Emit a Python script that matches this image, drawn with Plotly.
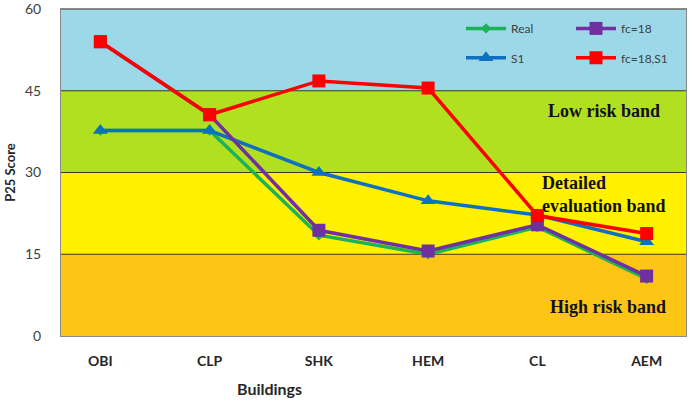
import plotly.graph_objects as go

buildings = ["OBI", "CLP", "SHK", "HEM", "CL", "AEM"]
real = [37.7, 37.7, 18.5, 15.0, 20.0, 10.5]
s1 = [37.7, 37.7, 30.0, 24.8, 22.2, 17.3]
fc18 = [54.0, 40.6, 19.4, 15.6, 20.4, 11.0]
fc18_s1 = [54.0, 40.6, 46.8, 45.5, 22.1, 18.8]
y_ticks = [0, 15, 30, 45, 60]
bands = [(0, 15, "#FFC514"), (15, 30, "#FFF100"), (30, 45, "#B1E021"), (45, 60, "#9CD8E8")]

fig = go.Figure()
for lo, hi, col in bands:
    fig.add_shape(type="rect", xref="paper", yref="y", x0=0, x1=1, y0=lo, y1=hi,
                  fillcolor=col, line_width=0, layer="below")
for v in y_ticks[1:]:
    fig.add_shape(type="line", xref="paper", yref="y", x0=0, x1=1, y0=v, y1=v,
                  line=dict(color="#3a3a10", width=1.2), layer="below")

fig.add_trace(go.Scatter(x=buildings, y=real, name="Real", mode="lines+markers",
                         line=dict(color="#1DB15A", width=3.5),
                         marker=dict(symbol="diamond", size=8, color="#1DB15A"),
                         legend="legend"))
fig.add_trace(go.Scatter(x=buildings, y=s1, name="S1", mode="lines+markers",
                         line=dict(color="#0E70C0", width=3.5),
                         marker=dict(symbol="triangle-up", size=13, color="#0E70C0"),
                         legend="legend3"))
fig.add_trace(go.Scatter(x=buildings, y=fc18, name="fc=18", mode="lines+markers",
                         line=dict(color="#7030A0", width=3.5),
                         marker=dict(symbol="square", size=13, color="#7030A0"),
                         legend="legend2"))
fig.add_trace(go.Scatter(x=buildings, y=fc18_s1, name="fc=18,S1", mode="lines+markers",
                         line=dict(color="#FF0000", width=3.5),
                         marker=dict(symbol="square", size=13, color="#FF0000"),
                         legend="legend4"))

ann_font = dict(family="Liberation Serif, Times New Roman, serif", size=18, color="#111111")
fig.add_annotation(x=0.776, y=41.3, xref="paper", yref="y", text="<b>Low risk band</b>",
                   xanchor="left", showarrow=False, font=ann_font)
fig.add_annotation(x=0.767, y=26.0, xref="paper", yref="y",
                   text="<b>Detailed<br>evaluation band</b>", xanchor="left", align="left",
                   showarrow=False, font=ann_font)
fig.add_annotation(x=0.779, y=5.4, xref="paper", yref="y", text="<b>High risk band</b>",
                   xanchor="left", showarrow=False, font=ann_font)
fig.add_annotation(x=0.334, y=0, yshift=-52, yanchor="middle", xref="paper", yref="paper",
                   text="<b>Buildings</b>", showarrow=False,
                   font=dict(family="Lato, sans-serif", size=16, color="#262626"))

leg_common = dict(bgcolor="rgba(0,0,0,0)", font=dict(family="Lato, sans-serif", size=12, color="#404040"),
                  tracegroupgap=0, itemwidth=40, yanchor="top", xanchor="left")
fig.update_layout(
    width=695, height=411,
    margin=dict(l=61, r=9, t=9, b=75, autoexpand=False),
    paper_bgcolor="white", plot_bgcolor="rgba(0,0,0,0)",
    showlegend=True,
    legend=dict(x=0.64, y=0.985, **leg_common),
    legend2=dict(x=0.816, y=0.985, **leg_common),
    legend3=dict(x=0.64, y=0.895, **leg_common),
    legend4=dict(x=0.816, y=0.895, **leg_common),
    font=dict(family="Lato, sans-serif", color="#404040"),
)
fig.update_xaxes(showgrid=False, showline=True, linecolor="#8a8a8a", mirror=True,
                 automargin=False,
                 ticks="", tickfont=dict(size=14, family="Lato, sans-serif", color="#262626"),
                 ticklabelstandoff=12, tickprefix="<b>", ticksuffix="</b>")
fig.update_yaxes(range=[0, 60], tickvals=y_ticks, showgrid=False, zeroline=False,
                 automargin=False,
                 showline=True, linecolor="#8a8a8a", mirror=True, ticks="",
                 tickfont=dict(size=14, color="#404040"), ticklabelstandoff=16,
                 ticklabeloverflow="allow",
                 tickprefix="<b>", ticksuffix="</b>",
                 title=dict(text="<b>P25 Score</b>", font=dict(size=13, color="#262626"), standoff=6))

fig.write_html("out.html")
